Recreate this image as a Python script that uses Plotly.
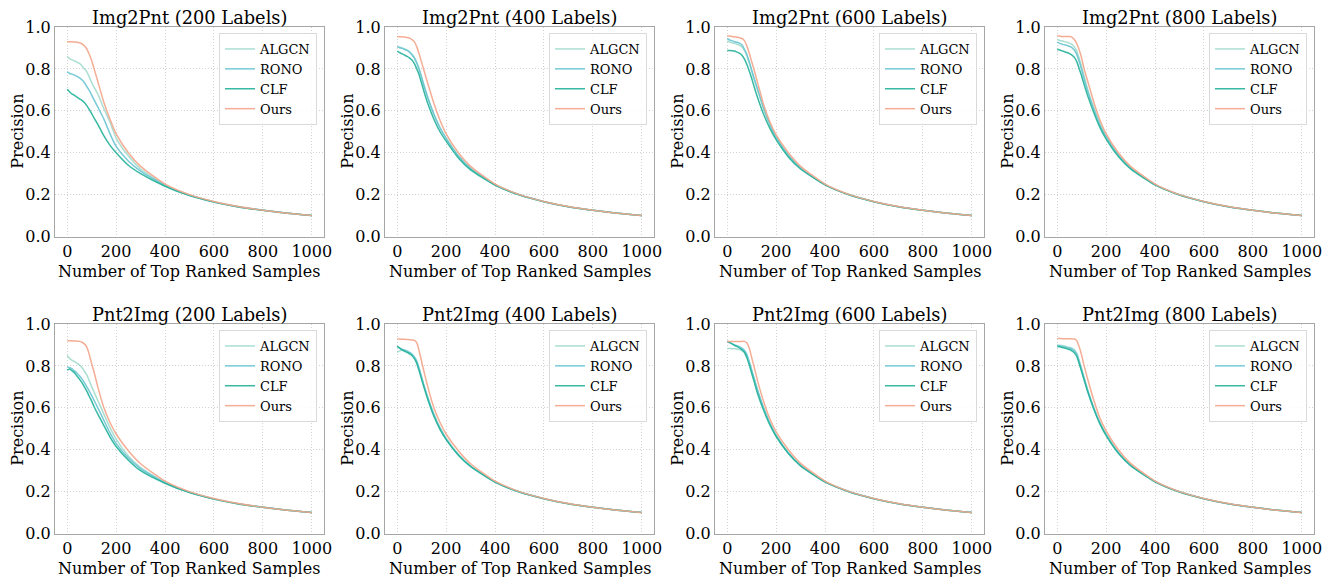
import plotly.graph_objects as go

# ---------------- data ----------------
K = [0, 10, 20, 30, 40, 50, 60, 70, 80, 90, 100, 110, 125, 150, 175, 200,
     250, 300, 400, 500, 600, 700, 800, 900, 1000]

methods = ["ALGCN", "RONO", "CLF", "Ours"]
titles = ["Img2Pnt (200 Labels)", "Img2Pnt (400 Labels)", "Img2Pnt (600 Labels)", "Img2Pnt (800 Labels)",
          "Pnt2Img (200 Labels)", "Pnt2Img (400 Labels)", "Pnt2Img (600 Labels)", "Pnt2Img (800 Labels)"]
x_ticks = [0, 200, 400, 600, 800, 1000]
y_ticks = [0.0, 0.2, 0.4, 0.6, 0.8, 1.0]

# Img2Pnt 200
i2p200_algcn = [0.860,0.848,0.843,0.838,0.832,0.826,0.815,0.800,0.787,0.762,0.735,0.712,0.680,0.610,0.545,0.470,0.385,0.322,0.246,0.198,0.166,0.142,0.125,0.111,0.100]
i2p200_rono  = [0.787,0.778,0.775,0.770,0.764,0.757,0.748,0.735,0.716,0.697,0.675,0.652,0.618,0.560,0.490,0.430,0.360,0.312,0.243,0.197,0.165,0.142,0.125,0.111,0.100]
i2p200_clf   = [0.703,0.690,0.680,0.674,0.665,0.657,0.650,0.640,0.625,0.607,0.587,0.565,0.535,0.480,0.435,0.400,0.340,0.300,0.240,0.195,0.164,0.141,0.125,0.111,0.100]
i2p200_ours  = [0.930,0.930,0.929,0.928,0.927,0.925,0.920,0.910,0.895,0.870,0.840,0.800,0.740,0.640,0.560,0.490,0.400,0.335,0.250,0.200,0.167,0.143,0.125,0.111,0.100]
# Img2Pnt 400
i2p400_algcn = [0.907,0.903,0.900,0.895,0.890,0.882,0.870,0.855,0.830,0.800,0.760,0.720,0.665,0.585,0.520,0.470,0.385,0.325,0.247,0.199,0.166,0.142,0.125,0.111,0.100]
i2p400_rono  = [0.905,0.901,0.898,0.893,0.888,0.880,0.868,0.852,0.827,0.796,0.757,0.717,0.662,0.582,0.518,0.468,0.384,0.324,0.247,0.199,0.166,0.142,0.125,0.111,0.100]
i2p400_clf   = [0.885,0.878,0.872,0.866,0.860,0.853,0.842,0.825,0.800,0.770,0.730,0.690,0.635,0.560,0.500,0.455,0.375,0.318,0.245,0.198,0.166,0.142,0.125,0.111,0.100]
i2p400_ours  = [0.955,0.954,0.953,0.952,0.950,0.947,0.940,0.930,0.905,0.870,0.830,0.790,0.730,0.635,0.555,0.490,0.400,0.335,0.250,0.200,0.167,0.143,0.125,0.111,0.100]
# Img2Pnt 600
i2p600_algcn = [0.933,0.928,0.925,0.922,0.918,0.913,0.905,0.888,0.862,0.828,0.790,0.750,0.695,0.605,0.530,0.472,0.387,0.326,0.248,0.199,0.166,0.142,0.125,0.111,0.100]
i2p600_rono  = [0.946,0.938,0.934,0.930,0.927,0.923,0.915,0.895,0.870,0.835,0.795,0.755,0.700,0.610,0.535,0.475,0.388,0.327,0.248,0.199,0.166,0.142,0.125,0.111,0.100]
i2p600_clf   = [0.888,0.888,0.887,0.885,0.880,0.875,0.865,0.848,0.822,0.790,0.755,0.715,0.660,0.580,0.515,0.462,0.380,0.322,0.246,0.198,0.166,0.142,0.125,0.111,0.100]
i2p600_ours  = [0.958,0.957,0.955,0.953,0.951,0.949,0.945,0.935,0.910,0.875,0.835,0.795,0.730,0.625,0.545,0.485,0.400,0.335,0.250,0.200,0.167,0.143,0.125,0.111,0.100]
# Img2Pnt 800
i2p800_algcn = [0.940,0.936,0.933,0.930,0.927,0.923,0.917,0.905,0.885,0.850,0.810,0.765,0.700,0.615,0.540,0.480,0.390,0.328,0.248,0.199,0.166,0.142,0.125,0.111,0.100]
i2p800_rono  = [0.928,0.922,0.918,0.915,0.912,0.908,0.902,0.890,0.868,0.835,0.795,0.750,0.690,0.605,0.530,0.475,0.388,0.327,0.248,0.199,0.166,0.142,0.125,0.111,0.100]
i2p800_clf   = [0.894,0.890,0.886,0.882,0.878,0.873,0.866,0.855,0.835,0.800,0.765,0.725,0.670,0.590,0.520,0.465,0.382,0.323,0.246,0.198,0.166,0.142,0.125,0.111,0.100]
i2p800_ours  = [0.958,0.957,0.954,0.955,0.955,0.955,0.952,0.940,0.920,0.890,0.850,0.800,0.740,0.640,0.555,0.490,0.400,0.335,0.250,0.200,0.167,0.143,0.125,0.111,0.100]
# Pnt2Img 200
p2i200_algcn = [0.850,0.835,0.826,0.820,0.813,0.805,0.792,0.775,0.757,0.730,0.700,0.675,0.635,0.570,0.505,0.450,0.370,0.315,0.244,0.198,0.166,0.142,0.125,0.111,0.100]
p2i200_rono  = [0.795,0.792,0.786,0.776,0.765,0.753,0.738,0.720,0.700,0.680,0.658,0.635,0.600,0.540,0.480,0.430,0.360,0.310,0.242,0.197,0.165,0.142,0.125,0.111,0.100]
p2i200_clf   = [0.780,0.785,0.776,0.766,0.752,0.737,0.720,0.700,0.680,0.655,0.632,0.605,0.570,0.515,0.460,0.415,0.350,0.300,0.240,0.195,0.164,0.141,0.125,0.111,0.100]
p2i200_ours  = [0.920,0.920,0.919,0.919,0.918,0.917,0.913,0.905,0.890,0.855,0.810,0.770,0.700,0.600,0.530,0.475,0.395,0.333,0.250,0.200,0.167,0.143,0.125,0.111,0.100]
# Pnt2Img 400
p2i400_algcn = [0.865,0.872,0.875,0.872,0.866,0.860,0.852,0.840,0.820,0.785,0.745,0.705,0.650,0.570,0.505,0.455,0.378,0.322,0.246,0.198,0.166,0.142,0.125,0.111,0.100]
p2i400_rono  = [0.890,0.885,0.880,0.876,0.872,0.865,0.857,0.843,0.822,0.785,0.745,0.703,0.648,0.567,0.502,0.452,0.376,0.321,0.246,0.198,0.166,0.142,0.125,0.111,0.100]
p2i400_clf   = [0.895,0.885,0.876,0.870,0.865,0.858,0.850,0.835,0.812,0.775,0.735,0.695,0.640,0.560,0.497,0.448,0.374,0.320,0.245,0.198,0.166,0.142,0.125,0.111,0.100]
p2i400_ours  = [0.928,0.928,0.927,0.927,0.926,0.925,0.924,0.922,0.910,0.870,0.820,0.770,0.700,0.600,0.530,0.475,0.395,0.333,0.250,0.200,0.167,0.143,0.125,0.111,0.100]
# Pnt2Img 600
p2i600_algcn = [0.883,0.883,0.882,0.882,0.881,0.878,0.873,0.865,0.845,0.815,0.780,0.740,0.680,0.595,0.525,0.470,0.385,0.325,0.247,0.199,0.166,0.142,0.125,0.111,0.100]
p2i600_rono  = [0.915,0.910,0.905,0.900,0.896,0.892,0.885,0.875,0.855,0.820,0.780,0.740,0.680,0.595,0.525,0.468,0.384,0.325,0.247,0.199,0.166,0.142,0.125,0.111,0.100]
p2i600_clf   = [0.918,0.912,0.905,0.898,0.892,0.886,0.878,0.865,0.840,0.805,0.765,0.725,0.665,0.585,0.517,0.463,0.382,0.323,0.246,0.198,0.166,0.142,0.125,0.111,0.100]
p2i600_ours  = [0.917,0.917,0.917,0.917,0.917,0.917,0.917,0.917,0.910,0.885,0.840,0.795,0.725,0.625,0.545,0.485,0.400,0.335,0.250,0.200,0.167,0.143,0.125,0.111,0.100]
# Pnt2Img 800
p2i800_algcn = [0.900,0.899,0.897,0.895,0.892,0.889,0.885,0.877,0.860,0.825,0.785,0.745,0.685,0.600,0.530,0.475,0.388,0.327,0.248,0.199,0.166,0.142,0.125,0.111,0.100]
p2i800_rono  = [0.898,0.896,0.893,0.890,0.887,0.884,0.880,0.872,0.855,0.820,0.780,0.740,0.680,0.597,0.527,0.472,0.386,0.326,0.248,0.199,0.166,0.142,0.125,0.111,0.100]
p2i800_clf   = [0.893,0.891,0.888,0.885,0.882,0.878,0.872,0.863,0.845,0.810,0.772,0.733,0.675,0.592,0.522,0.467,0.383,0.324,0.247,0.198,0.166,0.142,0.125,0.111,0.100]
p2i800_ours  = [0.931,0.931,0.930,0.930,0.930,0.929,0.929,0.928,0.920,0.890,0.850,0.800,0.735,0.635,0.550,0.490,0.400,0.335,0.250,0.200,0.167,0.143,0.125,0.111,0.100]

panels = [
    [i2p200_algcn, i2p200_rono, i2p200_clf, i2p200_ours],
    [i2p400_algcn, i2p400_rono, i2p400_clf, i2p400_ours],
    [i2p600_algcn, i2p600_rono, i2p600_clf, i2p600_ours],
    [i2p800_algcn, i2p800_rono, i2p800_clf, i2p800_ours],
    [p2i200_algcn, p2i200_rono, p2i200_clf, p2i200_ours],
    [p2i400_algcn, p2i400_rono, p2i400_clf, p2i400_ours],
    [p2i600_algcn, p2i600_rono, p2i600_clf, p2i600_ours],
    [p2i800_algcn, p2i800_rono, p2i800_clf, p2i800_ours],
]

colors = ["#a3dccd", "#6cc6d4", "#27b39b", "#f4a78c"]

# ---------------- layout geometry (pixels) ----------------
W, H = 1327, 577
col_left = [55, 385, 715, 1045]
row_top = [27, 324]
pw, ph = 269, 209.5

SERIF = "DejaVu Serif"
fig = go.Figure()
annotations = []
layout = dict(width=W, height=H, margin=dict(l=0, r=0, t=0, b=0, pad=0, autoexpand=False),
              paper_bgcolor="white", plot_bgcolor="white", showlegend=True)

for p in range(8):
    r, c = divmod(p, 4)
    k = p + 1
    sfx = "" if k == 1 else str(k)
    x0 = col_left[c] / W
    x1 = (col_left[c] + pw) / W
    ytop = 1 - row_top[r] / H
    ybot = 1 - (row_top[r] + ph) / H
    lg = "legend" + sfx
    for m, name in enumerate(methods):
        fig.add_trace(go.Scatter(
            x=K, y=panels[p][m], mode="lines", name=name,
            line=dict(color=colors[m], width=1.5, shape="spline", smoothing=0.6),
            opacity=0.92, xaxis="x" + sfx, yaxis="y" + sfx, legend=lg,
        ))
    axcommon = dict(showline=True, mirror=True, linecolor="#a6a6a6", linewidth=1,
                    showgrid=True, gridcolor="#d2d2d2", griddash="1px,2px", gridwidth=1,
                    zeroline=False, ticks="", automargin=False,
                    tickfont=dict(family=SERIF, size=16, color="black"))
    layout["xaxis" + sfx] = dict(domain=[x0, x1], anchor="y" + sfx, range=[-50, 1050],
                                 tickvals=x_ticks, **axcommon)
    layout["yaxis" + sfx] = dict(domain=[ybot, ytop], anchor="x" + sfx, range=[0, 1],
                                 tickvals=y_ticks, tickformat=".1f", **axcommon)
    layout[lg] = dict(x=(col_left[c] + pw - 7) / W, y=1 - (row_top[r] + 6) / H,
                      xanchor="right", yanchor="top", xref="paper", yref="paper",
                      bgcolor="rgba(255,255,255,0.85)", bordercolor="#dadada", borderwidth=1,
                      font=dict(family=SERIF, size=13, color="black"),
                      itemwidth=30, tracegroupgap=0)
    annotations.append(dict(text=titles[p], x=(x0 + x1) / 2, y=ytop - 3 / H, xref="paper", yref="paper",
                            xanchor="center", yanchor="bottom", showarrow=False,
                            font=dict(family=SERIF, size=17.8, color="black")))
    annotations.append(dict(text="Number of Top Ranked Samples", x=(x0 + x1) / 2,
                            y=1 - (row_top[r] + ph + 34.5) / H, xref="paper", yref="paper",
                            xanchor="center", yanchor="middle", showarrow=False,
                            font=dict(family=SERIF, size=16, color="black")))
    annotations.append(dict(text="Precision", x=(col_left[c] - 37) / W, y=(ybot + ytop) / 2,
                            xref="paper", yref="paper", xanchor="center", yanchor="middle",
                            textangle=-90, showarrow=False,
                            font=dict(family=SERIF, size=16, color="black")))

layout["annotations"] = annotations
fig.update_layout(**layout)
fig.write_html("out.html", config={"displayModeBar": False},
               post_script="document.body.style.margin='0';document.body.style.overflow='hidden';")
